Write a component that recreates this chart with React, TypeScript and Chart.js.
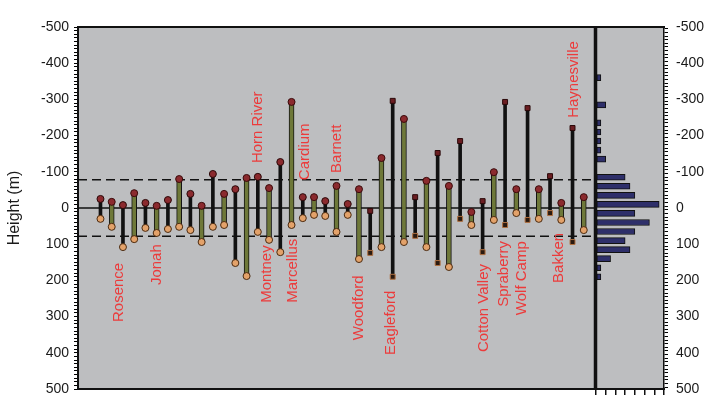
import React, { useEffect, useRef } from 'react';
import { Chart, registerables } from 'chart.js';

Chart.register(...registerables);

// ---- Data ----
// Each play is drawn as a pair: a black bar and an olive bar (top = above datum, negative).
const blackTop = [-25, -8, -14, -22, -39, -94, -52, -86, -127, -30, -19, -11, 8, -296, -30, -152, -185, -19, -293, -276, -88, -221];
const blackBottom = [30, 108, 55, 58, 61, 52, 152, 66, 122, 28, 22, 19, 124, 190, 77, 152, 30, 122, 47, 33, 14, 94];
const oliveTop = [-17, -41, -6, -80, -6, -39, -83, -55, -293, -30, -61, -52, -138, -246, -75, -61, 11, -99, -52, -52, -14, -30];
const oliveBottom = [52, 86, 69, 52, 94, 47, 188, 88, 47, 19, 66, 141, 108, 94, 108, 163, 47, 33, 14, 30, 33, 61];

// Histogram (right panel)
const histCenters = [-360, -285, -235, -210, -185, -160, -135, -85, -60, -35, -10, 15, 40, 65, 90, 115, 140, 165, 190];
const histCounts = [1, 2, 1, 1, 1, 1, 2, 6, 7, 8, 13, 8, 11, 8, 6, 7, 3, 1, 1];

// Play name annotations (x in bar-slot units, y = value where the text starts)
const playNames = ['Rosence', 'Jonah', 'Horn River', 'Montney', 'Marcellus', 'Cardium', 'Barnett', 'Woodford', 'Eagleford', 'Cotton Valley', 'Spraberry', 'Wolf Camp', 'Bakken', 'Haynesville'];
const playLabelX = [3.64, 7.0, 16.0, 16.8, 19.1, 20.2, 23.0, 25.0, 27.8, 36.1, 37.9, 39.5, 42.8, 44.1];
const playLabelY = [315, 213, -124, 262, 262, -77, -97, 365, 406, 398, 273, 296, 207, -249];

const bandLimits = [-78, 78];
const yMin = -500;
const yMax = 500;
const minorStep = 10;
const slotMax = 46;
const histMax = 14;

const FONT = "'Liberation Sans', Arial, Helvetica, sans-serif";
const GREY = '#BDBEC0';
const OLIVE = '#6E7839';
const INK = '#111111';

const blackX = (i: number) => 2 + 2 * i;
const oliveX = (i: number) => 3 + 2 * i;

const tickCb = (v: any) => (Math.round(Number(v)) % 100 === 0 ? String(Math.round(Number(v))) : ' ');

const bgPlugin = (drawRight: boolean, drawLeftThick: boolean) => ({
  id: 'bgFrame',
  beforeDraw(chart: any) {
    const { ctx, chartArea } = chart;
    const { left, top, right, bottom } = chartArea;
    ctx.save();
    ctx.fillStyle = GREY;
    ctx.fillRect(left, top, right - left, bottom - top);
    ctx.restore();
  },
  afterDraw(chart: any) {
    const { ctx, chartArea } = chart;
    const { left, top, right, bottom } = chartArea;
    ctx.save();
    ctx.strokeStyle = INK;
    ctx.lineWidth = 2;
    ctx.beginPath();
    ctx.moveTo(left - 1, top);
    ctx.lineTo(right + 1, top);
    ctx.stroke();
    ctx.beginPath();
    ctx.moveTo(left - 1, bottom);
    ctx.lineTo(right + 1, bottom);
    ctx.stroke();
    if (drawRight) {
      ctx.lineWidth = 2.5;
      ctx.beginPath();
      ctx.moveTo(right, top);
      ctx.lineTo(right, bottom);
      ctx.stroke();
    }
    if (drawLeftThick) {
      ctx.lineWidth = 2.5;
      ctx.beginPath();
      ctx.moveTo(left, top);
      ctx.lineTo(left, bottom);
      ctx.stroke();
    }
    ctx.restore();
  },
});

const labelPlugin = {
  id: 'playLabels',
  afterDatasetsDraw(chart: any) {
    const { ctx } = chart;
    const xs = chart.scales.x;
    const ys = chart.scales.y;
    ctx.save();
    ctx.font = `15px ${FONT}`;
    ctx.fillStyle = '#EC3B3B';
    ctx.textAlign = 'left';
    ctx.textBaseline = 'middle';
    playNames.forEach((name, i) => {
      const px = xs.getPixelForValue(playLabelX[i]);
      const py = ys.getPixelForValue(playLabelY[i]);
      ctx.save();
      ctx.translate(px, py);
      ctx.rotate(-Math.PI / 2);
      ctx.fillText(name, 0, 0);
      ctx.restore();
    });
    ctx.restore();
  },
};

const lateRect = (ctx: any) => (ctx.dataIndex >= 12 ? 'rect' : 'circle');

// Every-10 tick list so the dense minor comb is drawn.
const buildMinorTicks = (s: any) => {
  const t: any[] = [];
  for (let v = yMin; v <= yMax; v += minorStep) t.push({ value: v });
  s.ticks = t;
};

export default function App() {
  const aRef = useRef<HTMLCanvasElement>(null);
  const bRef = useRef<HTMLCanvasElement>(null);

  useEffect(() => {
    const hLine = (y: number, dash: number[]) => ({
      type: 'line' as const,
      data: [{ x: 0, y }, { x: slotMax, y }],
      borderColor: INK,
      borderWidth: 1.6,
      borderDash: dash,
      pointRadius: 0,
      order: 6,
    });

    const yCommon = {
      type: 'linear' as const,
      min: yMin,
      max: yMax,
      reverse: true,
      offset: false,
      afterBuildTicks: buildMinorTicks,
      ticks: {
        autoSkip: false,
        callback: tickCb,
        font: { family: FONT, size: 14 },
        color: '#1a1a1a',
      },
      grid: {
        display: true,
        drawOnChartArea: false,
        drawTicks: true,
        tickLength: 4,
        color: '#000',
        tickColor: '#000',
        tickWidth: 1,
        lineWidth: 1,
      },
    };

    const chartA = new Chart(aRef.current!, {
      type: 'bar',
      data: {
        datasets: [
          hLine(bandLimits[0], [9, 5]) as any,
          hLine(bandLimits[1], [9, 5]) as any,
          hLine(0, []) as any,
          {
            type: 'bar',
            data: blackTop.map((t, i) => ({ x: blackX(i), y: [t, blackBottom[i]] })) as any,
            backgroundColor: INK,
            borderWidth: 0,
            barThickness: 3,
            grouped: false,
            order: 4,
          } as any,
          {
            type: 'bar',
            data: oliveTop.map((t, i) => ({ x: oliveX(i), y: [t, oliveBottom[i]] })) as any,
            backgroundColor: OLIVE,
            borderColor: INK,
            borderWidth: 1,
            borderSkipped: false,
            barThickness: 5,
            grouped: false,
            order: 4,
          } as any,
          {
            type: 'scatter',
            data: oliveBottom.map((b, i) => ({ x: oliveX(i), y: b })),
            pointRadius: 3.5,
            backgroundColor: '#E3A26A',
            borderColor: '#4a2a10',
            borderWidth: 1,
            order: 2,
          } as any,
          {
            type: 'scatter',
            data: blackBottom.map((b, i) => ({ x: blackX(i), y: b })),
            pointRadius: 3.5,
            pointStyle: lateRect,
            backgroundColor: (c: any) => (c.dataIndex >= 12 ? '#2a1a10' : '#E3A26A'),
            borderColor: (c: any) => (c.dataIndex >= 12 ? '#b07040' : '#4a2a10'),
            borderWidth: 1,
            order: 2,
          } as any,
          {
            type: 'scatter',
            data: oliveTop.map((t, i) => ({ x: oliveX(i), y: t })),
            pointRadius: 3.5,
            backgroundColor: '#8B2A2E',
            borderColor: '#3a0a0a',
            borderWidth: 1,
            order: 1,
          } as any,
          {
            type: 'scatter',
            data: blackTop.map((t, i) => ({ x: blackX(i), y: t })),
            pointRadius: 3.5,
            pointStyle: lateRect,
            backgroundColor: (c: any) => (c.dataIndex >= 12 ? '#6B1E22' : '#8B2A2E'),
            borderColor: '#2a0808',
            borderWidth: 1,
            order: 1,
          } as any,
        ],
      },
      options: {
        animation: false,
        responsive: true,
        maintainAspectRatio: false,
        layout: { padding: { left: 0, right: 4, top: 27, bottom: 22 } },
        plugins: { legend: { display: false }, tooltip: { enabled: false } },
        scales: {
          x: { type: 'linear', min: 0, max: slotMax, offset: false, display: false },
          y: {
            ...yCommon,
            ticks: { ...yCommon.ticks, padding: 5 },
            border: { display: true, color: INK, width: 2 },
            title: {
              display: true,
              text: 'Height (m)',
              font: { family: FONT, size: 16 },
              color: '#1a1a1a',
              padding: { top: 5, bottom: 0 },
            },
            afterFit: (s: any) => {
              s.width = 78;
            },
          } as any,
        },
      },
      plugins: [bgPlugin(true, false), labelPlugin],
    });

    const chartB = new Chart(bRef.current!, {
      type: 'bar',
      data: {
        datasets: [
          {
            data: histCenters.map((c, i) => ({ x: histCounts[i], y: c })) as any,
            backgroundColor: '#2E2F6A',
            borderColor: INK,
            borderWidth: 1,
            borderSkipped: false,
            barThickness: 6,
          },
        ],
      },
      options: {
        animation: false,
        responsive: true,
        maintainAspectRatio: false,
        indexAxis: 'y',
        layout: { padding: { left: 6, right: 0, top: 27, bottom: 0 } },
        plugins: { legend: { display: false }, tooltip: { enabled: false } },
        scales: {
          x: {
            type: 'linear',
            min: 0,
            max: histMax,
            offset: false,
            ticks: { stepSize: 2, display: false },
            grid: { drawOnChartArea: false, drawTicks: true, tickLength: 6, color: INK, lineWidth: 1.5 },
            border: { display: true, color: INK, width: 2 },
            afterFit: (s: any) => {
              s.height = 22;
            },
          },
          y: {
            ...yCommon,
            position: 'right',
            ticks: { ...yCommon.ticks, padding: 8 },
            border: { display: true, color: INK, width: 1.5 },
            afterFit: (s: any) => {
              s.width = 59;
            },
          } as any,
        },
      },
      plugins: [bgPlugin(false, true)],
    });

    return () => {
      chartA.destroy();
      chartB.destroy();
    };
  }, []);

  return (
    <div style={{ position: 'fixed', left: 0, top: 0, width: 723, height: 411, background: '#ffffff' }}>
      <div style={{ position: 'absolute', left: 0, top: 0, width: 600, height: 411 }}>
        <canvas ref={aRef} />
      </div>
      <div style={{ position: 'absolute', left: 590, top: 0, width: 133, height: 411 }}>
        <canvas ref={bRef} />
      </div>
    </div>
  );
}
